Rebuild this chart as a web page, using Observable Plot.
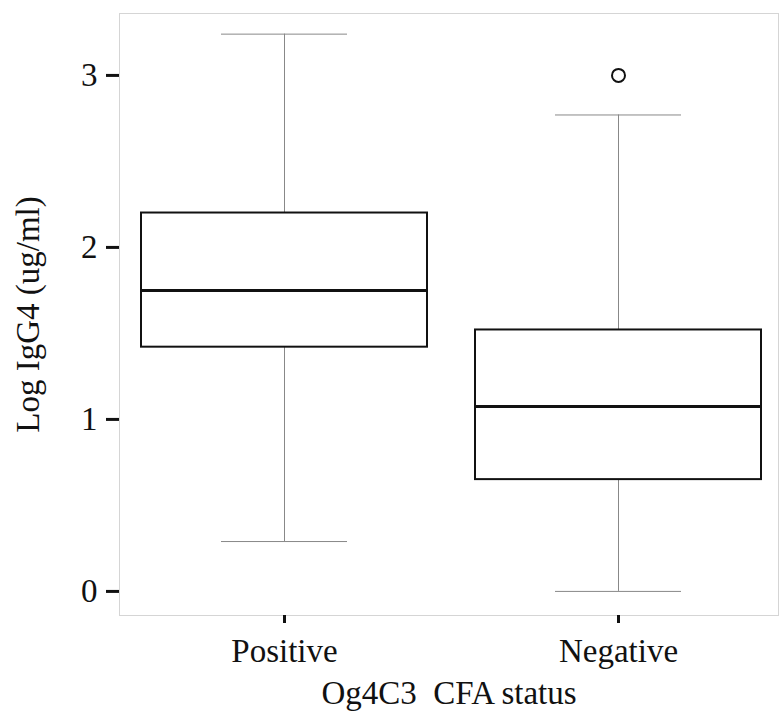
<!DOCTYPE html>
<html>
<head>
<meta charset="utf-8">
<script src="https://cdn.jsdelivr.net/npm/d3@7"></script>
<script src="https://cdn.jsdelivr.net/npm/@observablehq/plot@0.6"></script>
<style>
  html, body { margin: 0; padding: 0; background: #fff; }
</style>
</head>
<body>
<div id="chart"></div>
<script>
const categories = ["Positive", "Negative"];
const whiskerLow = [0.29, 0.0];
const q1 = [1.42, 0.65];
const median = [1.75, 1.075];
const q3 = [2.20, 1.52];
const whiskerHigh = [3.24, 2.77];
const outlierCategory = ["Negative"];
const outlierValue = [3.0];
const yTicks = [0, 1, 2, 3];

const stats = categories.map((c, i) => ({
  cat: c, lo: whiskerLow[i], q1: q1[i], med: median[i], q3: q3[i], hi: whiskerHigh[i]
}));
const outliers = outlierCategory.map((c, i) => ({cat: c, v: outlierValue[i]}));

const font = "Liberation Serif, Times New Roman, serif";

const chart = Plot.plot({
  width: 781,
  height: 711,
  marginLeft: 119,
  marginTop: 13,
  marginBottom: 96,
  marginRight: 3,
  style: {fontFamily: font, background: "#fff", color: "#111"},
  x: {domain: categories, paddingInner: 0.1437, paddingOuter: 0.0583, align: 0.56},
  y: {domain: [-0.14, 3.36]},
  marks: [
    Plot.frame({stroke: "#aaa", strokeDasharray: "1,1"}),
    Plot.ruleX(stats, {x: "cat", y1: "q3", y2: "hi", stroke: "#888", strokeWidth: 1}),
    Plot.ruleX(stats, {x: "cat", y1: "lo", y2: "q1", stroke: "#888", strokeWidth: 1}),
    Plot.tickY(stats, {x: "cat", y: "hi", stroke: "#888", strokeWidth: 1, insetLeft: 80, insetRight: 80}),
    Plot.tickY(stats, {x: "cat", y: "lo", stroke: "#888", strokeWidth: 1, insetLeft: 80, insetRight: 80}),
    Plot.barY(stats, {x: "cat", y1: "q1", y2: "q3", fill: "white", stroke: "#111", strokeWidth: 2}),
    Plot.tickY(stats, {x: "cat", y: "med", stroke: "#111", strokeWidth: 3}),
    Plot.dot(outliers, {x: "cat", y: "v", r: 6.5, stroke: "#111", strokeWidth: 2, fill: "none"}),
    Plot.axisY({
      ticks: yTicks, tickFormat: d => String(d), tickSize: 13, tickPadding: 9,
      strokeWidth: 3, fontSize: 33, fontFamily: font,
      label: "Log IgG4 (ug/ml)", labelAnchor: "center", labelArrow: "none", labelOffset: 104
    }),
    Plot.axisX({
      tickSize: 8, tickPadding: 15, strokeWidth: 3, fontSize: 33, fontFamily: font,
      label: "Og4C3  CFA status", labelAnchor: "center", labelArrow: "none", labelOffset: 88
    })
  ]
});
chart.querySelectorAll("g[aria-label='y-axis label'], g[aria-label='x-axis label']").forEach(g => {
  g.setAttribute("font-size", "33");
  g.querySelectorAll("text").forEach(t => t.setAttribute("style", "white-space: pre"));
});
document.getElementById("chart").appendChild(chart);
</script>
</body>
</html>
